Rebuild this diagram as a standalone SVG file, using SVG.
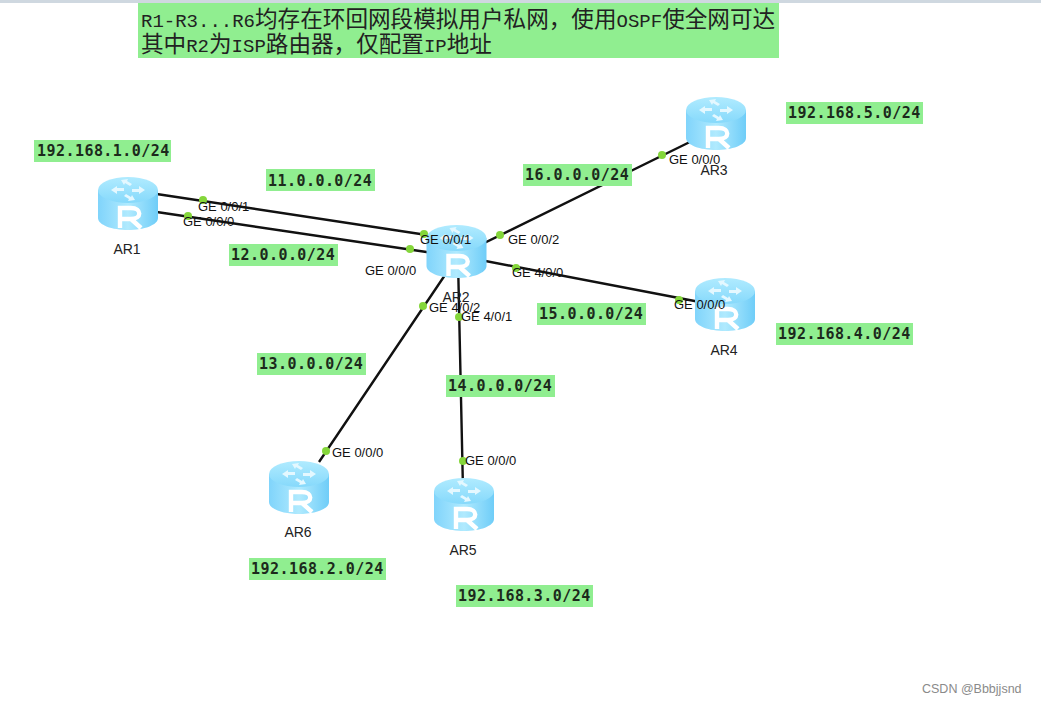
<svg xmlns="http://www.w3.org/2000/svg" xmlns:xlink="http://www.w3.org/1999/xlink" width="1041" height="705" viewBox="0 0 1041 705">
<style>
.lb{fill:#90ee90}
.net{font:bold 15px "DejaVu Sans Mono","Liberation Mono",monospace;letter-spacing:.45px;fill:#1c2a1c}
.port{font:13px "Liberation Sans",Arial,sans-serif;fill:#111}
.name{font:14px "Liberation Sans",Arial,sans-serif;fill:#222}
.note{font:22.6px "Noto Sans CJK SC","DejaVu Sans",sans-serif;fill:#222}
.note tspan{font:19px "Liberation Mono","DejaVu Sans Mono",monospace}
.link{stroke:#111;stroke-width:2.4;fill:none}
.dot{fill:#84d63a}
</style>
<defs>
<linearGradient id="side" x1="0" x2="1" y1="0" y2="0"><stop offset="0" stop-color="#80d4fb"/><stop offset=".5" stop-color="#b0eafe"/><stop offset="1" stop-color="#6fcdf8"/></linearGradient>
<linearGradient id="top" x1="0" x2="0" y1="0" y2="1"><stop offset="0" stop-color="#b0ebff"/><stop offset="1" stop-color="#86d9fb"/></linearGradient>
<g id="router">
<path d="M-30-10V18C-30 25-16 30 0 30S30 25 30 18V-10Z" fill="url(#side)"/>
<ellipse cx="0" cy="-10" rx="30" ry="13" fill="url(#top)"/>
<path d="M-17-10l6-4v2h7v3h-7v3zM17-10l-6 4v-2h-7v-3h7v-3zM-7-20l7-1-1 2 5 3-2 2-5-3-1 2zM7 0l-7 1 1-2-5-3 2-2 5 3 1-2z" fill="#e4f8ff"/>
<path d="M-8 28V8H3C14 8 14 19 3 19H-8M3 19L13 28" fill="none" stroke="#fff" stroke-width="4.4"/>
</g>
</defs>
<rect width="1041" height="705" fill="#fff"/>
<rect x="0" y="0" width="1041" height="3" fill="#cfd8e0"/>
<g id="note">
<rect class="lb" x="138" y="3" width="641" height="55"/>
<text class="note" x="141" y="27"><tspan>R1-R3...R6</tspan>均存在环回网段模拟用户私网，使用<tspan>OSPF</tspan>使全网可达</text>
<text class="note" x="141" y="52">其中<tspan>R2</tspan>为<tspan>ISP</tspan>路由器，仅配置<tspan>IP</tspan>地址</text>
</g>
<g id="connectors">
<path class="link" d="M150 193L440 237M150 211L440 254M470 250L700 137M470 258L705 303M445 275L319 462M458 260L463 490"/>
<circle class="dot" cx="203" cy="200" r="4"/><circle class="dot" cx="188" cy="216" r="4"/>
<circle class="dot" cx="424" cy="234" r="4"/><circle class="dot" cx="410" cy="249" r="4"/>
<circle class="dot" cx="500" cy="235" r="4"/><circle class="dot" cx="662" cy="155" r="4"/>
<circle class="dot" cx="516" cy="268" r="4"/><circle class="dot" cx="679" cy="300" r="4"/>
<circle class="dot" cx="423" cy="306" r="4"/><circle class="dot" cx="326" cy="451" r="4"/>
<circle class="dot" cx="459" cy="317" r="4"/><circle class="dot" cx="463" cy="461" r="4"/>
</g>
<g id="AR1"><use xlink:href="#router" href="#router" x="128" y="200"/><text class="name" x="127" y="254" text-anchor="middle">AR1</text></g>
<g id="AR2"><use xlink:href="#router" href="#router" x="456.500" y="248"/><text class="name" x="456" y="302" text-anchor="middle">AR2</text></g>
<g id="AR3"><use xlink:href="#router" href="#router" x="716" y="120"/><text class="name" x="714" y="175" text-anchor="middle">AR3</text></g>
<g id="AR4"><use xlink:href="#router" href="#router" x="725" y="301"/><text class="name" x="724" y="355" text-anchor="middle">AR4</text></g>
<g id="AR5"><use xlink:href="#router" href="#router" x="464" y="501"/><text class="name" x="463" y="555" text-anchor="middle">AR5</text></g>
<g id="AR6"><use xlink:href="#router" href="#router" x="299" y="484"/><text class="name" x="298" y="537" text-anchor="middle">AR6</text></g>
<g id="ports">
<text class="port" x="198" y="211">GE 0/0/1</text><text class="port" x="183" y="226">GE 0/0/0</text>
<text class="port" x="420" y="244">GE 0/0/1</text><text class="port" x="365" y="275">GE 0/0/0</text>
<text class="port" x="508" y="244">GE 0/0/2</text><text class="port" x="512" y="277">GE 4/0/0</text>
<text class="port" x="429" y="312">GE 4/0/2</text><text class="port" x="461" y="321">GE 4/0/1</text>
<text class="port" x="669" y="164">GE 0/0/0</text><text class="port" x="674" y="309">GE 0/0/0</text>
<text class="port" x="332" y="457">GE 0/0/0</text><text class="port" x="465" y="465">GE 0/0/0</text>
</g>
<g id="networks">
<rect class="lb" x="34" y="140" width="137" height="22"/><text class="net" x="37" y="156">192.168.1.0/24</text>
<rect class="lb" x="786" y="102" width="137" height="22"/><text class="net" x="788" y="118">192.168.5.0/24</text>
<rect class="lb" x="776" y="323" width="137" height="22"/><text class="net" x="778" y="339">192.168.4.0/24</text>
<rect class="lb" x="249" y="558" width="137" height="22"/><text class="net" x="251" y="574">192.168.2.0/24</text>
<rect class="lb" x="456" y="585" width="137" height="22"/><text class="net" x="458" y="601">192.168.3.0/24</text>
<rect class="lb" x="266" y="169" width="109" height="22"/><text class="net" x="268" y="186">11.0.0.0/24</text>
<rect class="lb" x="229" y="244" width="109" height="22"/><text class="net" x="231" y="260">12.0.0.0/24</text>
<rect class="lb" x="257" y="353" width="109" height="22"/><text class="net" x="259" y="369">13.0.0.0/24</text>
<rect class="lb" x="446" y="375" width="109" height="22"/><text class="net" x="448" y="391">14.0.0.0/24</text>
<rect class="lb" x="537" y="303" width="109" height="22"/><text class="net" x="539" y="319">15.0.0.0/24</text>
<rect class="lb" x="523" y="164" width="109" height="22"/><text class="net" x="525" y="180">16.0.0.0/24</text>
</g>
<text x="922" y="693" font-family="'Liberation Sans',Arial,sans-serif" font-size="12.5" fill="#8a8a8a">CSDN @Bbbjjsnd</text>
</svg>
